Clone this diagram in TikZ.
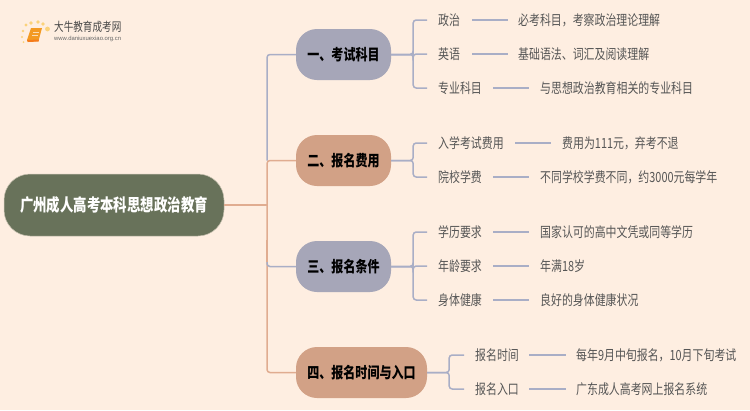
\documentclass[tikz,border=0pt]{standalone}
\usepackage{fontspec}
\setmainfont{Noto Sans CJK SC}[FakeStretch=0.78]
\newfontfamily\urlfont{Liberation Sans}
\definecolor{bgc}{HTML}{FEEEE1}
\definecolor{lav}{HTML}{A6A6B8}
\definecolor{org}{HTML}{D2A186}
\definecolor{rootc}{HTML}{68725A}
\definecolor{txt}{HTML}{555555}
\definecolor{linel}{HTML}{A9AEC6}
\definecolor{lineo}{HTML}{E0AC90}
\definecolor{dotc}{HTML}{FBD27A}
\definecolor{bookc}{HTML}{F39A22}
\tikzset{
 x=1pt,y=-1pt,
 rootbox/.style={rounded corners=26pt,fill=rootc,draw=rootc!35!bgc,line width=.5pt,text=white,font=\fontsize{17.2}{18}\selectfont\bfseries,minimum width=220pt,minimum height=62pt,inner sep=0pt},
 topica/.style={rounded corners=21pt,fill=lav,minimum height=51pt,minimum width=95pt,inner sep=0pt,text=black,font=\fontsize{15.4}{17}\selectfont\bfseries},
 topicb/.style={topica,fill=org},
 leaf/.style={anchor=west,inner sep=0pt,text=txt,font=\fontsize{14}{16}\selectfont},
 lineL/.style={draw=linel,line width=1.5pt},
 lineO/.style={draw=lineo,line width=1.5pt},
 linkc/.style={draw=linel,line width=1.5pt},
}
\begin{document}
\begin{tikzpicture}
\useasboundingbox (0,0) rectangle (750,410);
\fill[bgc] (0,0) rectangle (750,410);
% logo
\foreach \a/\b/\r in {26/25/1.6,31/23/1.8,38/22/1.9,43/24/1.9,47.5/29/2.4,23/31/1.4,22/37/1.2,23.5/42/1}
  \fill[dotc] (\a,\b) circle (\r);
\fill[bookc] (31,28) -- (42,28) -- (38.5,41) -- (28,42) -- (27,40) -- cycle;
\fill[bookc!80!red] (27,40) -- (28,42) -- (38.5,41.5) -- (39,39.5) -- cycle;
\draw[white!65!bookc,line width=.6pt] (33,32) -- (38.5,32) (32,35) -- (38,35);
\node[anchor=west,inner sep=0pt,text=black!72] (logot) at (54,27) {\fontsize{12.3}{13}\selectfont 大牛教育成考网};
\node[anchor=west,inner sep=0pt,text=black!60] (logou) at (54,38.7) {\urlfont\fontsize{5.9}{7}\selectfont www.daniuxuexiao.org.cn};
% nodes
\node[rootbox] (root) at (114,205) {广州成人高考本科思想政治教育};
\node[topica] (t1) at (343.5,54.5) {一、考试科目};
\node[topicb] (t2) at (343.5,160.5) {二、报名费用};
\node[topica] (t3) at (343.5,266.5) {三、报名条件};
\node[topicb,minimum width=131pt] (t4) at (361.5,372.5) {四、报名时间与入口};
% trunk
\coordinate (tr) at (267,205);
\coordinate (tj) at (267,160.5);
\draw[lineO] (root.east) -- (tr);
\draw[lineL,rounded corners=3pt] (t1.west) -| (tj);
\draw[lineO,rounded corners=3pt] (t2.west) -- (tj) -- (267,372.5) -- (t4.west);
\draw[lineL,rounded corners=3pt] (267,250) |- (t3.west);
\draw[lineO] (267,240) -- (267,262);
% leaves
\foreach \n/\xl/\yy/\lab/\xa/\xb/\xt/\det in {
 a/438/20/政治/472/508/518/必考科目，考察政治理论理解,
 b/438/54/英语/472/508/518/基础语法、词汇及阅读理解,
 c/438/88/专业科目/493/529/540/与思想政治教育相关的专业科目,
 d/438/143/入学考试费用/515/551/562/费用为111元，弃考不退,
 e/438/177/院校学费/493/529/540/不同学校学费不同，约3000元每学年,
 f/438/232/学历要求/493/529/540/国家认可的高中文凭或同等学历,
 g/438/266/年龄要求/493/529/540/年满18岁,
 h/438/300/身体健康/493/529/540/良好的身体健康状况,
 i/475/355/报名时间/529/566/576/每年9月中旬报名，10月下旬考试,
 j/475/389/报名入口/529/566/576/广东成人高考网上报名系统}
{
 \node[leaf] (l\n) at (\xl,\yy) {\lab};
 \node[leaf] (d\n) at (\xt,\yy) {\det};
 \coordinate (p\n) at (\xa,\yy);
 \coordinate (q\n) at (\xb,\yy);
 \draw[linkc] (p\n) -- (q\n);
 \coordinate (e\n) at (\xl-11,\yy);
}
\foreach \tp/\n in {t1/a,t1/b,t1/c,t2/d,t2/e,t3/f,t3/g,t3/h,t4/i,t4/j}
  \draw[linkc,rounded corners=3pt] (\tp.east) -- ++(22,0) |- (e\n);
\end{tikzpicture}
\end{document}
